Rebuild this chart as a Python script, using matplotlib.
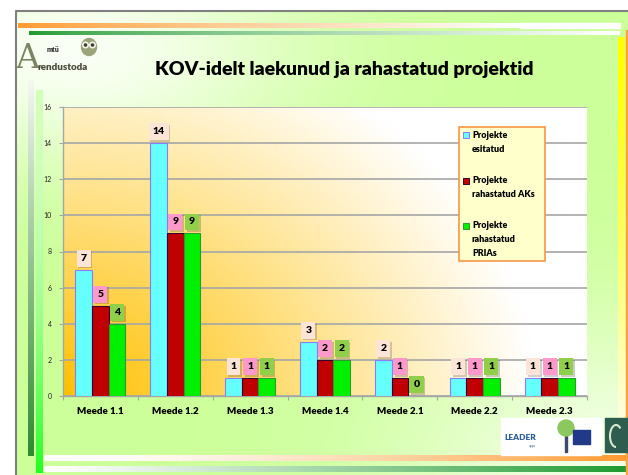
import numpy as np
import matplotlib
matplotlib.use('Agg')
import matplotlib.pyplot as plt
from matplotlib.patches import Rectangle, Ellipse, Circle, Arc
import matplotlib.patheffects as pe

#data
TITLE = 'KOV-idelt laekunud ja rahastatud projektid'
CATEGORIES = ['Meede 1.1', 'Meede 1.2', 'Meede 1.3', 'Meede 1.4',
              'Meede 2.1', 'Meede 2.2', 'Meede 2.3']
ESITATUD = [7, 14, 1, 3, 2, 1, 1]
RAHASTATUD_AK = [5, 9, 1, 2, 1, 1, 1]
RAHASTATUD_PRIA = [4, 9, 1, 2, 0, 1, 1]
SERIES_NAMES = ['Projekte\nesitatud', 'Projekte\nrahastatud AKs',
                'Projekte\nrahastatud\nPRIAs']
Y_TICKS = list(range(0, 17, 2))

#styles
BAR_COLORS = ['#66FFFF', '#C00000', '#00F000']
EDGE_COLORS = ['#8A7CFF', '#3A0030', '#2A9A2A']
LABEL_COLORS = ['#FCE4D6', '#FF99CC', '#8FCF4A']
BAR_W = 0.2225
FONT = 'Lato'

plt.rcParams['font.family'] = [FONT, 'DejaVu Sans']

W, H = 628, 475
fig = plt.figure(figsize=(W / 100, H / 100), dpi=100, facecolor='white')


def rgb(hexcol):
    return np.array(matplotlib.colors.to_rgb(hexcol))


#horizontal / vertical colour strip in pixel coordinates
def strip(ax, x0, x1, y0, y1, c0, c1, vertical=False, zorder=1, power=1.0):
    t = np.linspace(0, 1, 256) ** power
    cols = rgb(c0) + (rgb(c1) - rgb(c0)) * t[:, None]
    img = cols[:, None, :] if vertical else cols[None, :, :]
    ax.imshow(img, extent=(x0, x1, y1, y0), aspect='auto',
              interpolation='bilinear', zorder=zorder)


#########slide background###########
ax_bg = fig.add_axes([0, 0, 1, 1], zorder=0)
ax_bg.axis('off')

yy, xx = np.mgrid[0:H:2, 16:W:2]
green = rgb('#CCFF99')
w1 = np.exp(-(((xx - 70) / 230.0) ** 2 + ((yy - 40) / 120.0) ** 2))
w2 = np.exp(-(((xx - 610) / 220.0) ** 2 + ((yy - 470) / 160.0) ** 2))
wgt = np.clip(np.maximum(w1 * 0.9, w2 * 0.75), 0, 1)[..., None]
slide = green * (1 - wgt) + np.ones(3) * wgt
ax_bg.imshow(slide, extent=(16, W, H, 11), aspect='auto',
             interpolation='bilinear', zorder=0)

#decorative stripes
strip(ax_bg, 18, 520, 23, 28, '#FF9A2E', '#FFFFFF', power=0.8)
ax_bg.add_patch(Rectangle((520, 23), 100, 5, color='white', zorder=1))
strip(ax_bg, 29, 620, 31, 35, '#1E9A2E', '#FFFFFF', power=0.7)
strip(ax_bg, 44, W, 455, 461, '#FFFFFF', '#FF9A2E', power=1.6)
strip(ax_bg, 44, W, 466, 472, '#FFFFFF', '#1E9A2E', power=1.2)
strip(ax_bg, 28, 34, 80, 456, '#F4F8F0', '#2E8B2E', vertical=True)
strip(ax_bg, 36, 43, 90, 473, '#D4FFBC', '#22FF22', vertical=True,
      power=2.2)
strip(ax_bg, 618, 625, 37, 430, '#FFFF00', '#FFFFE8', vertical=True,
      power=1.3)
ax_bg.add_patch(Rectangle((625.5, 30), 3, H - 30, color='#FFA040',
                          zorder=1))

#slide border
ax_bg.plot([16, 16, W], [H, 11, 11], color='#808080', lw=1.5, zorder=2)
ax_bg.set_xlim(0, W)
ax_bg.set_ylim(H, 0)

#########the chart###########
ax = fig.add_axes([63 / W, 1 - 396 / H, 524 / W, 289 / H], zorder=2)
ax.patch.set_alpha(0)
n = len(CATEGORIES)

#plot area gradient, orange in the lower left corner
u, v = np.meshgrid(np.linspace(0, 1, 200), np.linspace(1, 0, 150))
t = np.clip(np.sqrt((u / 0.9) ** 2 + (v / 1.3) ** 2), 0, 1)[..., None]
plot_bg = rgb('#FFC000') * (1 - t) + np.ones(3) * t
ax.imshow(plot_bg, extent=(-0.5, n - 0.5, 0, 16), aspect='auto',
          interpolation='bilinear', zorder=0)

series = [ESITATUD, RAHASTATUD_AK, RAHASTATUD_PRIA]
for k, values in enumerate(series):
    xpos = np.arange(n) + (k - 1) * BAR_W
    ax.bar(xpos, values, BAR_W, color=BAR_COLORS[k],
           edgecolor=EDGE_COLORS[k], linewidth=0.8, zorder=3)
    for x, val in zip(xpos, values):
        txt = ax.annotate(str(val), (x, val), xytext=(0, 5),
                          textcoords='offset points', ha='center',
                          va='bottom', fontsize=7.5, fontweight='heavy',
                          color='black', zorder=5,
                          bbox=dict(boxstyle='square,pad=0.38',
                                    fc=LABEL_COLORS[k], ec='none'))
        txt.get_bbox_patch().set_path_effects(
            [pe.SimplePatchShadow(offset=(1.2, -1.2), alpha=0.25),
             pe.Normal()])

ax.set_xlim(-0.5, n - 0.5)
ax.set_ylim(0, 16)
ax.set_yticks(Y_TICKS)
ax.set_yticklabels([str(y) for y in Y_TICKS])
ax.yaxis.grid(True, color='#A6A6A6', linewidth=1.2, zorder=1)
ax.set_axisbelow(True)

#category labels between the boundary ticks
ax.set_xticks(np.arange(n + 1) - 0.5)
ax.set_xticklabels([])
ax.set_xticks(np.arange(n), minor=True)
ax.set_xticklabels(CATEGORIES, minor=True, fontsize=7, fontweight='heavy')
ax.tick_params(axis='x', which='minor', length=0, pad=8)
ax.tick_params(axis='x', which='major', length=3, color='#A6A6A6')
ax.tick_params(axis='y', length=3, color='#A6A6A6', labelsize=5,
               pad=5, labelcolor='#222222')
for side in ['top', 'right']:
    ax.spines[side].set_visible(False)
for side in ['left', 'bottom']:
    ax.spines[side].set_color('#A6A6A6')
    ax.spines[side].set_linewidth(1.0)

#########overlay: title, legend, logos###########
ax_top = fig.add_axes([0, 0, 1, 1], zorder=6)
ax_top.axis('off')
ax_top.set_xlim(0, W)
ax_top.set_ylim(H, 0)

ax_top.text(344, 70, TITLE, ha='center', va='center', fontsize=14,
            fontweight='heavy', color='black')

#legend box
ax_top.add_patch(Rectangle((459, 127), 86, 134, fc='#FFFFCC',
                           ec='#F79646', lw=1.2))
for i, name in enumerate(SERIES_NAMES):
    y0 = 135 + 45.5 * i
    ax_top.add_patch(Rectangle((463, y0 - 3), 6, 6, fc=BAR_COLORS[i],
                               ec=EDGE_COLORS[i], lw=0.7))
    for j, line in enumerate(name.split('\n')):
        ax_top.text(472, y0 + 14 * j, line, ha='left', va='center',
                    fontsize=6.5, fontweight='heavy', color='black')

#logo top left
ax_top.text(27, 59, 'A', ha='center', va='center', fontsize=24,
            family='DejaVu Serif', color='#7C8464')
ax_top.text(47, 50, 'mtü', ha='left', va='center', fontsize=5,
            fontweight='heavy', color='#333333')
ax_top.text(37, 67, 'rendustoda', ha='left', va='center', fontsize=7,
            fontweight='heavy', color='#4A4A3A')
ax_top.add_patch(Ellipse((89, 47), 15, 17, color='#9AA478'))
for ex in (85.5, 92.5):
    ax_top.add_patch(Circle((ex, 45), 2.8, color='#F4F4E8'))
    ax_top.add_patch(Circle((ex, 45), 1.1, color='#404030'))

#logos bottom right
ax_top.add_patch(Rectangle((501, 418), 100, 37, color='white'))
ax_top.text(504, 437, 'LEADER', ha='left', va='center', fontsize=6,
            fontweight='heavy', color='#2A5C9A')
ax_top.text(533, 446, 'apps', ha='center', va='center', fontsize=2.5,
            color='#4A6A9A')
ax_top.add_patch(Rectangle((564.5, 428), 2, 24, color='#3A4A6A'))
ax_top.add_patch(Circle((566, 428), 8, color='#8CC860'))
ax_top.add_patch(Rectangle((573, 430), 17, 14, color='#203A88'))
ax_top.add_patch(Rectangle((605, 418), 23, 34, color='#2E5C4E'))
ax_top.add_patch(Arc((616, 436), 12, 22, theta1=90, theta2=300,
                     color='#D8E8D0', lw=1.5))

fig.savefig('out.png', dpi=100, facecolor='white')
